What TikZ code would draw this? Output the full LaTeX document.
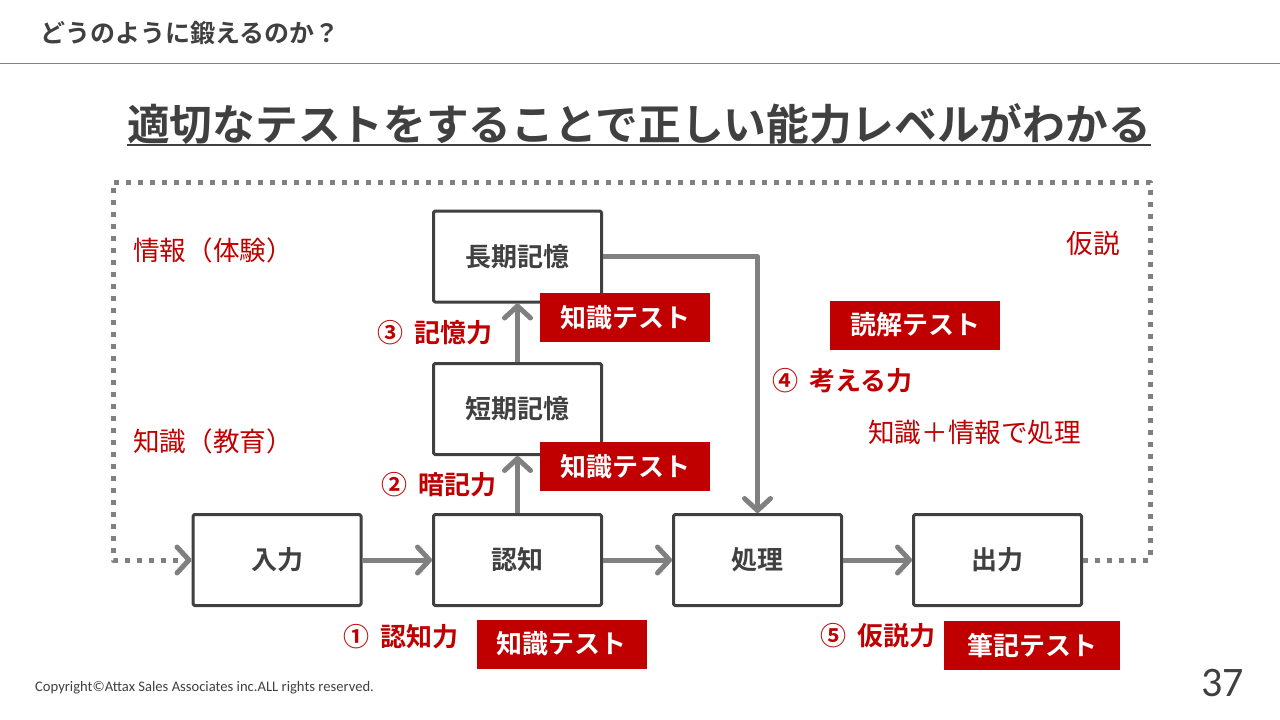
\documentclass[tikz,border=0pt]{standalone}
\usepackage{fontspec}
\setmainfont{Noto Sans CJK JP}[BoldFont={Noto Sans CJK JP Bold}]
\newfontfamily\calfont{Carlito}
\usetikzlibrary{arrows.meta}
\definecolor{txt}{HTML}{404040}
\definecolor{aka}{HTML}{C00000}
\definecolor{yaji}{HTML}{808080}
\newcommand{\gap}{\hspace{11pt}}
\begin{document}
\begin{tikzpicture}[x=1pt,y=-1pt, line join=round,
  box/.style={draw=txt,line width=3pt,fill=white,rounded corners=1.5pt,minimum width=168pt,minimum height=91pt,text=txt,font=\fontsize{26}{30}\selectfont\bfseries},
  tag/.style={fill=aka,text=white,inner sep=0pt,minimum width=170pt,minimum height=49pt,font=\fontsize{26}{30}\selectfont\bfseries},
  lbl/.style={anchor=west,inner sep=0pt,text=aka,font=\fontsize{26}{30}\selectfont\bfseries},
  note/.style={inner sep=0pt,text=aka,font=\fontsize{26.6}{30}\selectfont},
  yaji/.style={draw=yaji,line width=5pt,-{Straight Barb[length=12pt,width=26pt,round]}},
  dotline/.style={yaji,dash pattern=on 5pt off 7pt}]
  \fill[white] (0,0) rectangle (1280,720);
  \useasboundingbox (0,0) rectangle (1280,720);
  % header
  \node[anchor=west,inner sep=0pt,text=txt,font=\fontsize{25}{28}\selectfont\bfseries] (head) at (40,33) {どうのように鍛えるのか？};
  \draw[yaji,line width=1pt,-] (0,63) -- (1280,63);
  \node[inner sep=0pt,text=txt,font=\fontsize{42.7}{50}\selectfont\bfseries] (title) at (639,124) {適切なテストをすることで正しい能力レベルがわかる};
  \draw[txt,line width=2pt] (title.south west) -- (title.south east);
  % loop
  \coordinate (loopne) at (1150,182);
  \coordinate (loopsw) at (113,560);
  % boxes
  \node[box] (nyu) at (277,560) {入力};
  \node[box] (nin) at (517.5,560) {認知};
  \node[box] (shori) at (757.5,560) {処理};
  \node[box] (shutsu) at (997.5,560) {出力};
  \node[box] (tanki) at (517.5,409) {短期記憶};
  \node[box] (choki) at (517.5,256.5) {長期記憶};
  % arrows
  \draw[yaji] (nyu) -- (nin);
  \draw[yaji] (nin) -- (shori);
  \draw[yaji] (shori) -- (shutsu);
  \draw[yaji] (nin) -- (tanki);
  \draw[yaji] (tanki) -- (choki);
  \draw[yaji] (choki.east) -| (shori.north);
  \draw[dotline] (shutsu.east) -| (loopne) -| (loopsw) -- (nyu.west);
  % tests
  \node[tag] (test1) at (625,317.5) {知識テスト};
  \node[tag] (test2) at (625,466.5) {知識テスト};
  \node[tag] (test3) at (561.5,644) {知識テスト};
  \node[tag] (dokkai) at (915,325) {読解テスト};
  \node[tag,minimum width=176pt] (hikki) at (1032,645.5) {筆記テスト};
  % labels
  \node[lbl] (kioku) at (377,333) {③\gap 記憶力};
  \node[lbl] (anki) at (381,485) {②\gap 暗記力};
  \node[lbl] (ninchi) at (343,637) {①\gap 認知力};
  \node[lbl] (kangae) at (772,381) {④\gap 考える力};
  \node[lbl] (kasetsu) at (820,636) {⑤\gap 仮説力};
  \node[note,anchor=west] (joho) at (133,250) {情報（体験）};
  \node[note,anchor=west] (chishiki) at (133,441) {知識（教育）};
  \node[note,anchor=east] (kasetsu2) at (1120,243) {仮説};
  \node[note,anchor=west] (shorinote) at (868,432) {知識＋情報で処理};
  % footer
  \node[anchor=west,inner sep=0pt,text=txt,font=\calfont\fontsize{14.6}{17}\selectfont] (copy) at (35,688) {Copyright©Attax Sales Associates inc.ALL rights reserved.};
  \node[anchor=east,inner sep=0pt,text=txt,font=\calfont\fontsize{42}{48}\selectfont] (page) at (1244,683) {37};
\end{tikzpicture}
\end{document}
